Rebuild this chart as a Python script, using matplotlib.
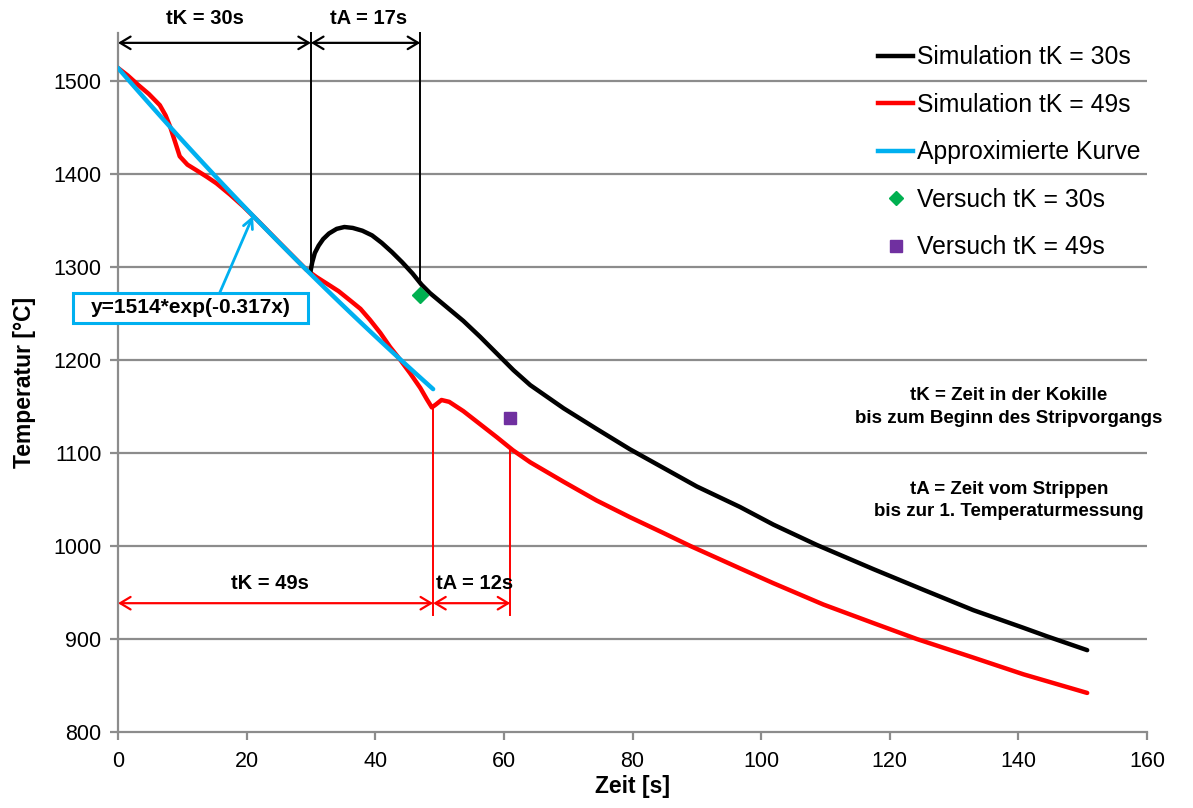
import numpy as np
import matplotlib
matplotlib.use("Agg")
import matplotlib.pyplot as plt
from matplotlib.lines import Line2D
from matplotlib.patches import Rectangle

plt.rcParams['font.family'] = ['Liberation Sans', 'DejaVu Sans']

# Simulation, tK = 30 s (stripping after 30 s)
sim30_t = [29.9, 30.2, 30.6, 31.2, 31.9, 32.8, 34.0, 35.2, 36.5, 38.0, 39.5, 41.0, 42.6, 44.2,
           45.8, 47.2, 48.5, 51.1, 53.7, 56.3, 58.9, 61.5, 64.1, 69.3, 74.4, 79.6, 84.8, 90.0,
           96.7, 101.9, 108.7, 117.5, 125.2, 133.0, 140.8, 144.4, 150.7]
sim30_T = [1294, 1305, 1315, 1323, 1330, 1336, 1341, 1343, 1342, 1339, 1334, 1326, 1316, 1305,
           1293, 1281, 1272, 1257, 1242, 1225, 1207, 1189, 1173, 1148, 1126, 1104, 1084, 1064,
           1042, 1023, 1001, 975, 953, 931, 912, 903, 888]

# Simulation, tK = 49 s
sim49_t = [0.0, 1.5, 3.1, 4.8, 6.5, 7.4, 8.1, 8.9, 9.6, 10.8, 12.2, 13.8, 15.3, 17.4, 19.5,
           22.0, 24.7, 27.0, 29.3, 30.9, 32.5, 34.3, 36.1, 37.7, 39.2, 40.8, 42.3, 43.9, 45.4,
           47.0, 48.0, 48.8, 49.4, 50.3, 51.5, 53.7, 56.3, 58.9, 61.4, 64.1, 69.3, 74.4, 79.6,
           84.8, 89.0, 96.7, 101.9, 109.7, 117.5, 124.2, 133.0, 140.8, 150.7]
sim49_T = [1514, 1506, 1496, 1486, 1474, 1463, 1451, 1434, 1419, 1410, 1404, 1397, 1390, 1378, 1365,
           1348, 1329, 1313, 1297, 1289, 1282, 1274, 1264, 1255, 1243, 1229, 1214, 1200, 1186,
           1170, 1158, 1149, 1152, 1157, 1155, 1145, 1131, 1117, 1103, 1090, 1069, 1049, 1031,
           1014, 1000, 976, 960, 937, 917, 900, 880, 862, 842]

# Approximated curve y = 1514*exp(-0.317x), x in minutes, fitted over 0..49 s
fit_a = 1514
fit_k = 0.317
fit_t_end = 49

# Measurements
exp30_t, exp30_T = [47], [1270]
exp49_t, exp49_T = [61], [1138]

# Time spans
tK1, tA1 = 30, 17
tK2, tA2 = 49, 12

x_ticks = [0, 20, 40, 60, 80, 100, 120, 140, 160]
y_ticks = [800, 900, 1000, 1100, 1200, 1300, 1400, 1500]

fig = plt.figure(figsize=(11.93, 8.08), dpi=100)
ax = fig.add_axes([118 / 1193, 1 - 732 / 808, 1029 / 1193, 699 / 808])
ax.set_xlim(0, 160)
ax.set_ylim(800, 1551.6)

grid_c = '#8c8c8c'
for y in y_ticks[1:]:
    ax.axhline(y, color=grid_c, lw=1.6, zorder=0)
for side in ('top', 'right'):
    ax.spines[side].set_visible(False)
for side in ('left', 'bottom'):
    ax.spines[side].set_color(grid_c)
    ax.spines[side].set_linewidth(1.6)
ax.set_xticks(x_ticks)
ax.set_yticks(y_ticks)
ax.tick_params(axis='both', direction='out', length=6, width=1.6, color=grid_c,
               labelsize=15.5, labelcolor='black')
ax.tick_params(axis='x', pad=8)
ax.tick_params(axis='y', pad=6)

ax.set_xlabel('Zeit [s]', fontsize=16.5, fontweight='bold', labelpad=2)
ax.set_ylabel('Temperatur [°C]', fontsize=16.5, fontweight='bold', labelpad=12)

# curves
line_kw = dict(lw=3.2, solid_capstyle='round', solid_joinstyle='round')
ax.plot(sim30_t, sim30_T, color='black', zorder=4, **line_kw)
ax.plot(sim49_t, sim49_T, color='#ff0000', zorder=3, **line_kw)
fit_t = np.linspace(0, fit_t_end, 100)
fit_T = fit_a * np.exp(-fit_k * fit_t / 60.0)
ax.plot(fit_t, fit_T, color='#00b0f0', zorder=5, **line_kw)

ax.plot(exp30_t, exp30_T, linestyle='none', marker='D', color='#00b050', ms=8.5, zorder=6)
ax.plot(exp49_t, exp49_T, linestyle='none', marker='s', color='#7030a0', ms=9, zorder=6)

# time-span markers for tK = 30 s
y_arrow_top = 1541
y_top = 1551.6
T_at_30 = np.interp(tK1, sim30_t, sim30_T)
T_at_47 = np.interp(tK1 + tA1, sim30_t, sim30_T)
ax.plot([tK1, tK1], [y_top, T_at_30], color='black', lw=1.4, zorder=2, clip_on=False)
ax.plot([tK1 + tA1, tK1 + tA1], [y_top, T_at_47], color='black', lw=1.4, zorder=2, clip_on=False)
arrow_kw = dict(arrowstyle='<->,head_length=0.75,head_width=0.45', lw=1.6, shrinkA=0, shrinkB=0)
ax.annotate('', xy=(0, y_arrow_top), xytext=(tK1, y_arrow_top),
            arrowprops=dict(color='black', **arrow_kw), annotation_clip=False)
ax.annotate('', xy=(tK1, y_arrow_top), xytext=(tK1 + tA1, y_arrow_top),
            arrowprops=dict(color='black', **arrow_kw), annotation_clip=False)
ax.text(13.5, 1567.5, f'tK = {tK1}s', ha='center', va='center', fontsize=14.5,
        fontweight='bold', clip_on=False)
ax.text(38.9, 1567.5, f'tA = {tA1}s', ha='center', va='center', fontsize=14.5,
        fontweight='bold', clip_on=False)

# time-span markers for tK = 49 s
y_arrow_bot = 938.5
y_low = 926
T_at_49 = np.interp(tK2, sim49_t, sim49_T)
T_at_61 = np.interp(tK2 + tA2, sim49_t, sim49_T)
ax.plot([tK2, tK2], [y_low, T_at_49], color='#ff0000', lw=1.4, zorder=2)
ax.plot([tK2 + tA2, tK2 + tA2], [y_low, T_at_61], color='#ff0000', lw=1.4, zorder=2)
ax.annotate('', xy=(0, y_arrow_bot), xytext=(tK2, y_arrow_bot),
            arrowprops=dict(color='#ff0000', **arrow_kw))
ax.annotate('', xy=(tK2, y_arrow_bot), xytext=(tK2 + tA2, y_arrow_bot),
            arrowprops=dict(color='#ff0000', **arrow_kw))
ax.text(23.6, 960, f'tK = {tK2}s', ha='center', va='center', fontsize=14.5, fontweight='bold')
ax.text(55.5, 960, f'tA = {tA2}s', ha='center', va='center', fontsize=14.5, fontweight='bold')

# label box for the approximated curve
t_lab = 21
T_lab = fit_a * np.exp(-fit_k * t_lab / 60.0)
ax.add_patch(Rectangle((-7.0, 1240), 36.55, 32, fc='white', ec='#00b0f0', lw=2.2,
                       clip_on=False, zorder=7))
ax.text(11.3, 1256, f'y={fit_a}*exp(-{fit_k}x)', ha='center', va='center', fontsize=15,
        fontweight='bold', zorder=8, clip_on=False)
ax.annotate('', xy=(t_lab, T_lab), xytext=(15.8, 1272),
            arrowprops=dict(arrowstyle='->,head_length=0.7,head_width=0.35', color='#00b0f0',
                            lw=2.0, shrinkA=0, shrinkB=0),
            annotation_clip=False, zorder=7)

# notes
ax.text(138.5, 1149.5, 'tK = Zeit in der Kokille\nbis zum Beginn des Stripvorgangs',
        ha='center', va='center', fontsize=13.5, fontweight='bold', linespacing=1.45)
ax.text(138.5, 1049, 'tA = Zeit vom Strippen\nbis zur 1. Temperaturmessung',
        ha='center', va='center', fontsize=13.5, fontweight='bold', linespacing=1.45)

handles = [
    Line2D([], [], color='black', lw=3.2),
    Line2D([], [], color='#ff0000', lw=3.2),
    Line2D([], [], color='#00b0f0', lw=3.2),
    Line2D([], [], color='#00b050', marker='D', ls='none', ms=7.5),
    Line2D([], [], color='#7030a0', marker='s', ls='none', ms=8),
]
labels = ['Simulation tK = 30s', 'Simulation tK = 49s', 'Approximierte Kurve',
          'Versuch tK = 30s', 'Versuch tK = 49s']
fig.legend(handles, labels, loc='upper left', bbox_to_anchor=(878 / 1193, 1 - 45.5 / 808),
           frameon=False, fontsize=17.8, handlelength=1.42, handletextpad=0.16,
           labelspacing=0.95, borderpad=0, borderaxespad=0)

fig.savefig('out.png', dpi=100)
